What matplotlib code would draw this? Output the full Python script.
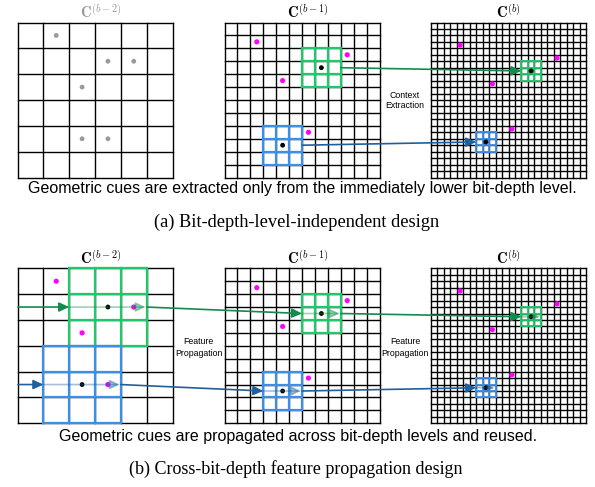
import matplotlib.pyplot as plt

plt.rcParams['mathtext.fontset'] = 'cm'

# ---- data ----
level_titles = [r"$\mathbf{C}^{(b-2)}$", r"$\mathbf{C}^{(b-1)}$", r"$\mathbf{C}^{(b)}$"]
grid_sizes = [6, 12, 24]

# occupied cells (col, row) for every level
top_cues_l0 = [(1, 0), (3, 1), (4, 1), (2, 2), (2, 4), (3, 4)]
bot_cues_l0 = [(1, 0), (4, 1), (2, 2), (3, 4)]
cues_l1 = [(2, 1), (9, 2), (4, 4), (6, 8)]
cues_l2 = [(4, 3), (19, 5), (9, 9), (12, 16)]

# centre voxel of the 3x3 context windows per level
green_centers = [(3, 1), (7, 3), (15, 7)]
blue_centers = [(2, 4), (4, 9), (8, 18)]

top_caption = "Geometric cues are extracted only from the immediately lower bit-depth level."
top_label = "(a) Bit-depth-level-independent design"
bot_caption = "Geometric cues are propagated across bit-depth levels and reused."
bot_label = "(b) Cross-bit-depth feature propagation design"

# ---- layout / style ----
grid_x0 = [17.5, 224.5, 431.0]
grid_w = 155.0
row_y0 = [22.5, 268.3]
title_dx = [5.5, 6.0, 0.0]

GREEN_BOX = '#1fc86a'
BLUE_BOX = '#3b8fe6'
GREEN_ARR = '#148a4c'
BLUE_ARR = '#1f5f9e'
MAGENTA = '#ff00ff'
GREY = '#9a9a9a'

fig = plt.figure(figsize=(5.95, 4.87), dpi=100)
ax = fig.add_axes([0, 0, 1, 1])
ax.set_xlim(0, 595)
ax.set_ylim(487, 0)
ax.axis('off')


def cs(level):
    return grid_w / grid_sizes[level]


def cell_center(level, y0, col, row):
    c = cs(level)
    return grid_x0[level] + (col + 0.5) * c, y0 + (row + 0.5) * c


def draw_grid(level, y0):
    n = grid_sizes[level]
    c = cs(level)
    x0 = grid_x0[level]
    for i in range(n + 1):
        ax.plot([x0 + i * c] * 2, [y0, y0 + grid_w], color='black', lw=1.0, zorder=1)
        ax.plot([x0, x0 + grid_w], [y0 + i * c] * 2, color='black', lw=1.0, zorder=1)


def draw_box(level, y0, center, color):
    c = cs(level)
    bx = grid_x0[level] + (center[0] - 1) * c
    by = y0 + (center[1] - 1) * c
    lw = 1.6 if level < 2 else 1.3
    for i in range(4):
        ax.plot([bx + i * c] * 2, [by, by + 3 * c], color=color, lw=lw, zorder=3)
        ax.plot([bx, bx + 3 * c], [by + i * c] * 2, color=color, lw=lw, zorder=3)


def box_edges(level, y0, center):
    c = cs(level)
    xl = grid_x0[level] + (center[0] - 1) * c
    xr = xl + 3 * c
    y = y0 + (center[1] + 0.5) * c
    return xl, xr, y


def dots(level, y0, cells, color, size):
    xs, ys = zip(*[cell_center(level, y0, cc, rr) for cc, rr in cells])
    ax.scatter(xs, ys, s=size, color=color, edgecolors='none', zorder=5)


def arrow(p0, p1, color, light=False, ms=10):
    ax.annotate('', xy=p1, xytext=p0,
                arrowprops=dict(arrowstyle='-|>,head_length=0.6,head_width=0.28',
                                color=color, lw=1.2, alpha=0.4 if light else 1.0,
                                shrinkA=0, shrinkB=0, mutation_scale=ms),
                zorder=6)


# ---- (a) top row ----
y0 = row_y0[0]
for lv in range(3):
    draw_grid(lv, y0)
    ax.text(grid_x0[lv] + grid_w / 2 + title_dx[lv], y0 - 10, level_titles[lv],
            ha='center', va='center', fontsize=10.5,
            color=GREY if lv == 0 else 'black')
dots(0, y0, top_cues_l0, GREY, 12)
dots(1, y0, cues_l1, MAGENTA, 14)
dots(2, y0, cues_l2, MAGENTA, 14)
for centers, bcol, acol in [(green_centers, GREEN_BOX, GREEN_ARR), (blue_centers, BLUE_BOX, BLUE_ARR)]:
    for lv in (1, 2):
        draw_box(lv, y0, centers[lv], bcol)
        dots(lv, y0, [centers[lv]], 'black', 12)
    _, xr1, y1 = box_edges(1, y0, centers[1])
    xl2, _, y2 = box_edges(2, y0, centers[2])
    arrow((xr1, y1), (xl2, y2), acol)

ax.text(405, 95, "Context", ha='center', va='center', fontsize=6.3, family='Liberation Sans')
ax.text(405, 105.5, "Extraction", ha='center', va='center', fontsize=6.3, family='Liberation Sans')
ax.text(302.5, 188.5, top_caption, ha='center', va='center', fontsize=11.5, family='Liberation Sans')
ax.text(296.5, 222, top_label, ha='center', va='center', fontsize=13.2, family='Liberation Serif')

# ---- (b) bottom row ----
y0 = row_y0[1]
for lv in range(3):
    draw_grid(lv, y0)
    ax.text(grid_x0[lv] + grid_w / 2 + title_dx[lv], y0 - 10, level_titles[lv],
            ha='center', va='center', fontsize=10.5, color='black')
dots(0, y0, bot_cues_l0, MAGENTA, 14)
dots(1, y0, cues_l1, MAGENTA, 14)
dots(2, y0, cues_l2, MAGENTA, 14)
for centers, bcol, acol in [(green_centers, GREEN_BOX, GREEN_ARR), (blue_centers, BLUE_BOX, BLUE_ARR)]:
    prev = None
    for lv in range(3):
        draw_box(lv, y0, centers[lv], bcol)
        dots(lv, y0, [centers[lv]], 'black', 12)
        xl, xr, y = box_edges(lv, y0, centers[lv])
        start = (grid_x0[0] + 0.5, y) if prev is None else prev
        arrow(start, (xl, y), acol)
        arrow((xl, y), (xr - 1, y), acol, light=True, ms=10 if lv < 2 else 6)
        prev = (xr, y)

for xc in (198.5, 405):
    ax.text(xc, 342, "Feature", ha='center', va='center', fontsize=6.3, family='Liberation Sans')
    ax.text(xc, 353, "Propagation", ha='center', va='center', fontsize=6.3, family='Liberation Sans')
ax.text(298.5, 437, bot_caption, ha='center', va='center', fontsize=11.5, family='Liberation Sans')
ax.text(296, 469, bot_label, ha='center', va='center', fontsize=13.0, family='Liberation Serif')

fig.savefig('out.png', dpi=100)
